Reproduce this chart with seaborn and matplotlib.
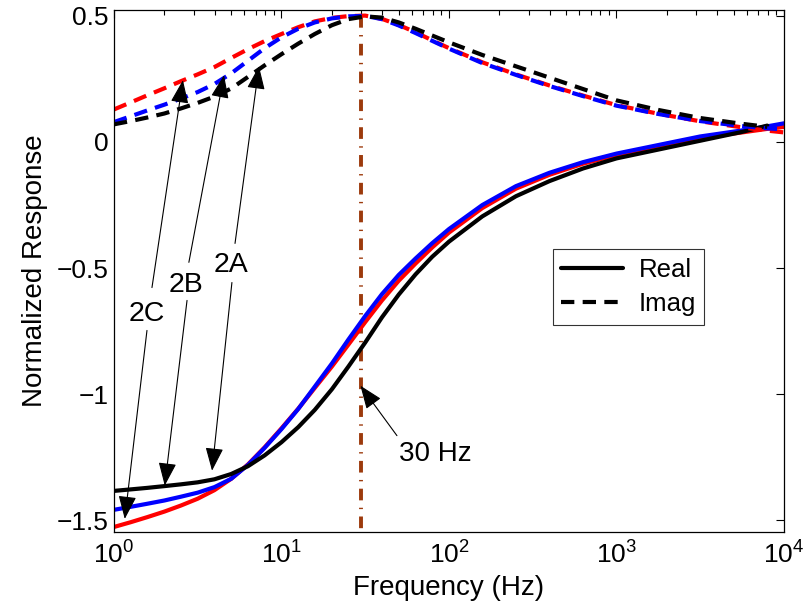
import numpy as np
import pandas as pd
import matplotlib
matplotlib.use("Agg")
import matplotlib.pyplot as plt
from matplotlib.lines import Line2D
from matplotlib.ticker import LogLocator, NullFormatter, FixedLocator
import seaborn as sns

# Frequency grid (Hz)
freq = [1, 1.26, 1.58, 2, 2.51, 3.16, 3.98, 5.01, 6.31, 7.94,
        10, 12.6, 15.8, 20, 25.1, 31.6, 39.8, 50.1, 63.1, 79.4,
        100, 158, 251, 398, 631, 1000, 1778, 3162, 5623, 7943, 10000]

# Normalized real part for the three cases
real_2a = [-1.383, -1.377, -1.371, -1.364, -1.357, -1.349, -1.337, -1.316, -1.285, -1.242,
           -1.190, -1.130, -1.062, -0.980, -0.890, -0.795, -0.695, -0.605, -0.525, -0.455,
           -0.395, -0.295, -0.215, -0.155, -0.105, -0.065, -0.030, 0.005, 0.040, 0.065,
           np.nan]
real_2b = [-1.458, -1.446, -1.434, -1.421, -1.406, -1.390, -1.368, -1.335, -1.280, -1.212,
           -1.138, -1.058, -0.970, -0.878, -0.783, -0.690, -0.603, -0.527, -0.462, -0.401,
           -0.345, -0.250, -0.175, -0.122, -0.080, -0.046, -0.012, 0.022, 0.046, 0.062,
           0.074]
real_2c = [-1.526, -1.507, -1.487, -1.465, -1.441, -1.414, -1.380, -1.335, -1.278, -1.210,
           -1.135, -1.057, -0.975, -0.890, -0.803, -0.714, -0.628, -0.550, -0.482, -0.418,
           -0.359, -0.262, -0.185, -0.130, -0.086, -0.052, -0.016, 0.016, 0.038, 0.052,
           0.060]

# Normalized imaginary part for the three cases
imag_2a = [0.070, 0.083, 0.097, 0.113, 0.133, 0.155, 0.180, 0.212, 0.258, 0.304,
           0.348, 0.390, 0.428, 0.463, 0.487, 0.498, 0.493, 0.474, 0.449, 0.422,
           0.395, 0.345, 0.300, 0.255, 0.210, 0.165, 0.127, 0.095, 0.072, 0.060,
           np.nan]
imag_2b = [0.079, 0.102, 0.125, 0.148, 0.172, 0.198, 0.230, 0.272, 0.322, 0.372,
           0.415, 0.449, 0.474, 0.490, 0.498, 0.500, 0.487, 0.462, 0.432, 0.401,
           0.370, 0.313, 0.266, 0.222, 0.182, 0.144, 0.111, 0.083, 0.063, 0.054,
           0.050]
imag_2c = [0.129, 0.157, 0.185, 0.213, 0.241, 0.268, 0.297, 0.333, 0.368, 0.400,
           0.428, 0.455, 0.478, 0.492, 0.499, 0.501, 0.488, 0.464, 0.435, 0.403,
           0.372, 0.316, 0.268, 0.224, 0.184, 0.146, 0.112, 0.082, 0.058, 0.045,
           0.038]

marker_freq = 30  # Hz
x_ticks = [1, 10, 100, 1000, 10000]
y_ticks = [-1.5, -1, -0.5, 0, 0.5]

sns.set_theme(style="white")
plt.rcParams["font.family"] = ["Liberation Sans", "DejaVu Sans"]
plt.rcParams["mathtext.fontset"] = "custom"
plt.rcParams["mathtext.rm"] = "Liberation Sans"
plt.rcParams["mathtext.it"] = "Liberation Sans:italic"
plt.rcParams["text.color"] = "black"
plt.rcParams["axes.labelcolor"] = "black"
plt.rcParams["xtick.color"] = "black"
plt.rcParams["ytick.color"] = "black"

fig = plt.figure(figsize=(8.06, 6.13), dpi=100)
ax = fig.add_axes([0.1414, 0.1321, 0.8313, 0.8515])

dash = (3.2, 2.0)
series = [
    (real_2c, "#ff0000", "-"), (real_2b, "#0000ff", "-"), (real_2a, "#000000", "-"),
    (imag_2c, "#ff0000", "--"), (imag_2b, "#0000ff", "--"), (imag_2a, "#000000", "--"),
]
for vals, col, ls in series:
    df = pd.DataFrame({"f": freq, "v": vals}).dropna()
    line_kw = dict(linestyle="-") if ls == "-" else dict(dashes=dash)
    sns.lineplot(data=df, x="f", y="v", ax=ax, color=col, lw=3.0,
                 estimator=None, sort=True, legend=False, **line_kw)

# 30 Hz reference line
ax.plot([marker_freq, marker_freq], [0.5, -1.6], color="#9c3a0c", lw=2.8,
        linestyle=(0, (3.0, 1.9, 0.35, 1.9)), zorder=1)

ax.set_xscale("log")
ax.set_xlim(1, 1e4)
ax.set_ylim(-1.546, 0.523)
ax.xaxis.set_major_locator(FixedLocator(x_ticks))
ax.xaxis.set_minor_locator(LogLocator(base=10, subs=np.arange(2, 10)))
ax.xaxis.set_minor_formatter(NullFormatter())
ax.set_xticklabels([r"$\mathdefault{10^{%d}}$" % int(np.log10(t)) for t in x_ticks])
ax.set_yticks(y_ticks)
ax.set_yticklabels(["\u22121.5", "\u22121", "\u22120.5", "0", "0.5"])

ax.tick_params(axis="both", which="both", direction="in", top=True, right=True,
               labelsize=19, colors="black", width=0.8)
ax.tick_params(axis="both", which="major", length=6)
ax.tick_params(axis="x", which="major", pad=7)
ax.tick_params(axis="y", which="major", pad=4)
ax.tick_params(axis="x", which="minor", length=3.5)
for sp in ax.spines.values():
    sp.set_color("black")
    sp.set_linewidth(0.9)

ax.set_xlabel("Frequency (Hz)", fontsize=20, labelpad=4)
ax.set_ylabel("Normalized Response", fontsize=20, labelpad=6)

# Case labels with arrows to the real and imaginary curves
arrow_kw = dict(arrowstyle="-|>,head_length=0.9,head_width=0.35", color="black",
                lw=0.8, shrinkA=0, shrinkB=0, mutation_scale=16)
labels = [
    ("2C", (1.575, -0.680), (1.686, -0.577), (2.58, 0.245), (1.574, -0.747), (1.16, -1.494)),
    ("2B", (2.69, -0.565), (2.80, -0.477), (4.54, 0.265), (2.73, -0.628), (2.01, -1.362)),
    ("2A", (5.0, -0.489), (5.28, -0.402), (7.34, 0.300), (5.06, -0.557), (3.85, -1.303)),
]
for name, pos, up_tail, up_tip, dn_tail, dn_tip in labels:
    ax.text(pos[0], pos[1], name, fontsize=20.5, ha="center", va="center")
    ax.annotate("", xy=up_tip, xytext=up_tail, arrowprops=arrow_kw)
    ax.annotate("", xy=dn_tip, xytext=dn_tail, arrowprops=arrow_kw)

ax.text(82.5, -1.236, "30 Hz", fontsize=20, ha="center", va="center")
ax.annotate("", xy=(29.6, -0.966), xytext=(48.9, -1.164), arrowprops=arrow_kw)

handles = [Line2D([], [], color="black", lw=3.0, linestyle="-"),
           Line2D([], [], color="black", lw=3.0, dashes=dash)]
leg = ax.legend(handles, ["Real", "Imag"], loc="upper left",
                bbox_to_anchor=(0.655, 0.542), fontsize=18.5, frameon=True,
                fancybox=False, edgecolor="black", handlelength=2.4,
                borderpad=0.33, labelspacing=0.42, handletextpad=0.6,
                borderaxespad=0)
leg.get_frame().set_linewidth(0.8)

fig.savefig("out.png", dpi=100, facecolor="white")
